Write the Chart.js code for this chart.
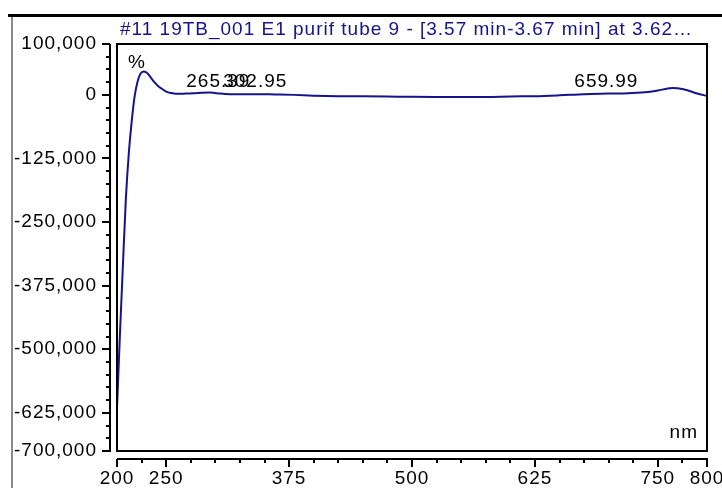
<!DOCTYPE html>
<html>
<head>
<meta charset="utf-8">
<script src="https://cdn.jsdelivr.net/npm/chart.js@4/dist/chart.umd.min.js"></script>
<style>
  html, body { margin: 0; padding: 0; background: #fff; }
  #wrap { width: 722px; height: 488px; position: relative; }
</style>
</head>
<body>
<div id="wrap"><canvas id="spectrum"></canvas></div>
<script>
// Data
const wavelengths = [200, 203, 206, 209, 212, 215, 218, 221, 224, 227, 230, 234, 238, 242, 246, 250, 255, 260, 265, 270, 278, 286, 295, 305, 315, 330, 345, 360, 380, 400, 425, 450, 475, 500, 525, 550, 575, 600, 625, 650, 675, 700, 720, 740, 750, 760, 765, 770, 780, 790, 800];
const absorbance = [-615000, -470000, -335000, -205000, -115000, -51000, -2000, 27000, 42000, 46000, 44000, 35000, 25000, 17000, 11500, 6500, 3500, 2000, 2000, 2500, 3000, 4000, 4500, 2500, 1300, 1000, 1300, 800, 0, -1500, -2500, -2800, -3200, -3800, -4000, -4000, -4000, -3000, -2500, -800, 1400, 2500, 3400, 5500, 8500, 12500, 13300, 12800, 9000, 2600, -2000];

const xTickLabels = [200, 250, 375, 500, 625, 750, 800];
const yTickLabels = [100000, 0, -125000, -250000, -375000, -500000, -625000, -700000];
const peakPositions = [265.39, 302.95, 659.99];
const peakLabels = ['265.39', '302.95', '659.99'];
const titleText = '#11 19TB_001 E1 purif tube 9 - [3.57 min-3.67 min] at 3.62\u2026';

const navy = '#14148c';
const fontFamily = '"Liberation Sans", Arial, sans-serif';
const fontSize = 19;

const points = wavelengths.map((w, i) => ({ x: w, y: absorbance[i] }));

// the reference text is set a little wide
const spacing = {
  id: 'spacing',
  beforeDraw(chart) {
    chart.ctx.letterSpacing = '1px';
  }
};

// frame, offset axes, tick marks and text
const decorations = {
  id: 'decorations',
  afterDraw(chart) {
    const ctx = chart.ctx;
    const area = chart.chartArea;
    const xs = chart.scales.x;
    const ys = chart.scales.y;
    const axisX = area.left - 7;
    const axisY = area.bottom + 8;
    ctx.save();

    // top bar and grey left rule
    ctx.fillStyle = '#000';
    ctx.fillRect(8, 14, 714, 3);
    ctx.fillStyle = '#8c8c8c';
    ctx.fillRect(11, 17, 2, 471);

    // plot frame
    ctx.strokeStyle = '#000';
    ctx.lineWidth = 2;
    ctx.strokeRect(area.left, area.top, area.right - area.left, area.bottom - area.top);

    // axis lines
    ctx.beginPath();
    ctx.moveTo(axisX, area.top);
    ctx.lineTo(axisX, area.bottom + 1);
    ctx.moveTo(area.left, axisY);
    ctx.lineTo(area.right + 1, axisY);
    ctx.stroke();

    // tick marks
    ctx.beginPath();
    ys.ticks.forEach(t => {
      const p = Math.round(ys.getPixelForValue(t.value));
      const len = yTickLabels.includes(t.value) ? 8 : 4;
      ctx.moveTo(axisX - len, p);
      ctx.lineTo(axisX, p);
    });
    xs.ticks.forEach(t => {
      const p = Math.round(xs.getPixelForValue(t.value));
      const len = xTickLabels.includes(t.value) ? 8 : 4;
      ctx.moveTo(p, axisY);
      ctx.lineTo(p, axisY + len);
    });
    ctx.stroke();

    // title
    ctx.letterSpacing = '1px';
    ctx.font = fontSize + 'px ' + fontFamily;
    ctx.fillStyle = navy;
    ctx.textAlign = 'left';
    ctx.textBaseline = 'alphabetic';
    ctx.fillText(titleText, area.left + 3, 35);

    // annotations
    ctx.fillStyle = '#000';
    ctx.fillText('%', area.left + 11, area.top + 24);
    peakPositions.forEach((w, i) => {
      ctx.fillText(peakLabels[i], xs.getPixelForValue(w) + 5, area.top + 43);
    });
    ctx.textAlign = 'right';
    ctx.fillText('nm', area.right - 9, area.bottom - 13);
    ctx.restore();
  }
};

const chart = new Chart(document.getElementById('spectrum'), {
  type: 'line',
  data: {
    datasets: [
      {
        label: 'Spectrum',
        data: points,
        borderColor: navy,
        borderWidth: 2,
        pointRadius: 0,
        fill: false,
        tension: 0.4,
        cubicInterpolationMode: 'monotone'
      }
    ]
  },
  options: {
    responsive: true,
    maintainAspectRatio: false,
    animation: false,
    layout: { padding: { left: 0, top: 44, right: 15, bottom: 0 } },
    plugins: {
      legend: { display: false },
      tooltip: { enabled: false },
      title: { display: false }
    },
    scales: {
      x: {
        type: 'linear',
        min: 200,
        max: 800,
        grid: { display: false, drawTicks: false },
        border: { display: false },
        ticks: {
          stepSize: 25,
          autoSkip: false,
          maxRotation: 0,
          padding: 16,
          color: '#000',
          font: { family: fontFamily, size: fontSize },
          callback: v => (xTickLabels.includes(v) ? String(v) : '')
        },
        afterFit(scale) {
          scale.height = 37;
          scale.paddingLeft = 0;
          scale.paddingRight = 0;
        }
      },
      y: {
        min: -700000,
        max: 100000,
        grid: { display: false, drawTicks: false },
        border: { display: false },
        ticks: {
          stepSize: 25000,
          autoSkip: false,
          padding: 20,
          color: '#000',
          font: { family: fontFamily, size: fontSize },
          callback: v => (yTickLabels.includes(v) ? v.toLocaleString('en-US') : '')
        },
        afterFit(scale) {
          scale.width = 117;
          scale.paddingTop = 0;
          scale.paddingBottom = 0;
        }
      }
    }
  },
  plugins: [spacing, decorations]
});
</script>
</body>
</html>
